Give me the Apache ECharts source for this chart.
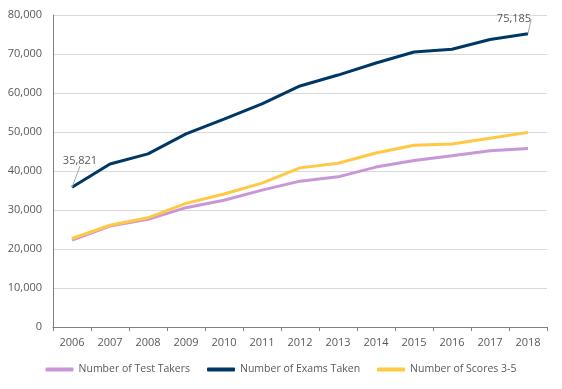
<!DOCTYPE html>
<html><head><meta charset="utf-8">
<script src="https://cdn.jsdelivr.net/npm/echarts@6/dist/echarts.min.js"></script>
<style>html,body{margin:0;padding:0;background:#fff}#c{width:562px;height:389px}</style>
</head><body><div id="c"></div>
<script>
var years = ['2006','2007','2008','2009','2010','2011','2012','2013','2014','2015','2016','2017','2018'];
var testTakers = [22300,25900,27600,30600,32500,35100,37400,38500,41000,42700,43900,45200,45800];
var examsTaken = [35821,41800,44400,49500,53300,57200,61800,64600,67700,70500,71200,73700,75185];
var scores35 = [22700,26100,28000,31700,34100,36900,40800,42000,44600,46600,46900,48400,49900];
var yTicks = [0,10000,20000,30000,40000,50000,60000,70000,80000];

var font = 'Open Sans';
var txt = '#595959';
function fmt(v){return v.toLocaleString('en-US');}
var examsData = examsTaken.map(function(v,i){
  if(i===0 || i===examsTaken.length-1) return {value:v,label:{show:true,position:'top',formatter:fmt(v)},labelLine:{show:true}};
  return v;
});
var chart = echarts.init(document.getElementById('c'));
chart.setOption({
  animation:false,
  textStyle:{fontFamily:font},
  grid:{left:53,right:15,top:15,bottom:62},
  legend:{
    bottom:9,left:'center',itemGap:17,itemWidth:28,itemHeight:4,icon:'roundRect',
    textStyle:{color:txt,fontSize:10.5,fontFamily:font},
    data:['Number of Test Takers','Number of Exams Taken','Number of Scores 3-5']
  },
  xAxis:{
    type:'category',data:years,boundaryGap:true,
    axisLine:{lineStyle:{color:'#808080'}},
    axisTick:{show:true,length:4,lineStyle:{color:'#808080'}},
    axisLabel:{color:txt,fontSize:11,margin:10}
  },
  yAxis:{
    type:'value',min:yTicks[0],max:yTicks[yTicks.length-1],interval:10000,
    axisLine:{show:true,lineStyle:{color:'#808080'}},
    axisTick:{show:false},
    splitLine:{lineStyle:{color:'#d9d9d9'}},
    axisLabel:{color:txt,fontSize:11,margin:11,formatter:function(v){return fmt(v);}}
  },
  series:[
    {name:'Number of Test Takers',type:'line',data:testTakers,symbol:'none',
     lineStyle:{width:3,color:'#C997D7'},itemStyle:{color:'#C997D7'}},
    {name:'Number of Exams Taken',type:'line',data:examsData,symbol:'circle',symbolSize:0.1,showSymbol:true,
     lineStyle:{width:3,color:'#003865'},itemStyle:{color:'#003865'},
     label:{color:txt,fontSize:11,fontFamily:font},
     labelLine:{show:true,lineStyle:{color:'#a6a6a6',width:1}},
     labelLayout:function(p){
       if(p.dataIndex===0) return {dx:8,dy:-16};
       return {dx:-14,dy:-4};
     }},
    {name:'Number of Scores 3-5',type:'line',data:scores35,symbol:'none',
     lineStyle:{width:3,color:'#FFC845'},itemStyle:{color:'#FFC845'}}
  ]
});
</script></body></html>
